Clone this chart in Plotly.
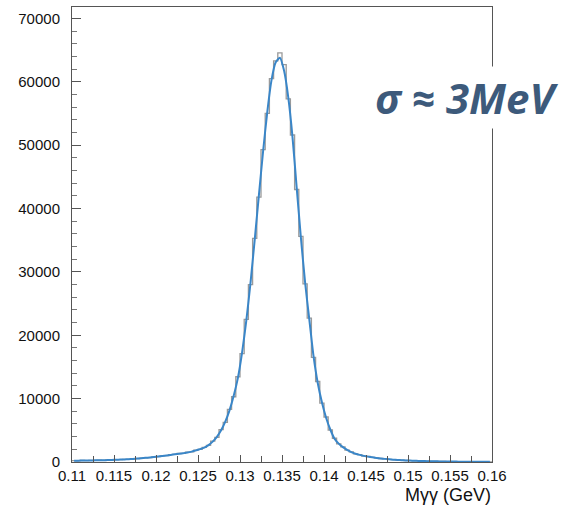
import plotly.graph_objects as go

# Binning of the diphoton invariant mass histogram (GeV)
mass_lo = 0.11
bin_width = 0.0005
n_bins = 100

# Entries per bin
counts = [
    230, 190, 240, 220, 260, 245, 290, 270, 320, 310,
    370, 360, 430, 420, 510, 520, 610, 640, 700, 810,
    860, 980, 1010, 1150, 1190, 1340, 1370, 1540, 1610, 1880,
    1990, 2310, 2620, 3300, 3900, 5120, 6250, 8290, 10300, 13450,
    17100, 22500, 28000, 35300, 41800, 49300, 55000, 60500, 63300, 64550,
    62700, 57300, 51600, 43000, 35600, 28100, 22700, 16500, 12700, 9300,
    7100, 5050, 3750, 2850, 2400, 1870, 1590, 1280, 1150, 940,
    870, 720, 660, 550, 505, 415, 385, 315, 295, 240,
    230, 185, 180, 145, 140, 112, 112, 92, 90, 70,
    72, 58, 60, 48, 48, 38, 40, 31, 32, 24,
]

# Fitted line shape evaluated at the bin centres
fit_values = [
    204, 213, 223, 233, 246, 259, 272, 286, 305, 326,
    351, 378, 410, 445, 490, 537, 595, 654, 726, 797,
    874, 953, 1036, 1120, 1210, 1300, 1390, 1490, 1641, 1833,
    2026, 2256, 2667, 3218, 3974, 5000, 6359, 8141, 10448, 13269,
    17307, 22307, 28268, 35063, 42114, 49037, 55254, 60254, 63074, 63780,
    61728, 57498, 51280, 43268, 35383, 28332, 22499, 16730, 12500, 9423,
    6987, 5128, 3679, 2897, 2346, 1910, 1551, 1308, 1122, 968,
    846, 737, 647, 563, 492, 426, 374, 326, 287, 251,
    222, 194, 172, 151, 135, 120, 108, 97, 86, 76,
    69, 63, 56, 51, 46, 42, 38, 33, 29, 26,
]

x_tick_vals = [0.11, 0.115, 0.12, 0.125, 0.13, 0.135, 0.14, 0.145, 0.15, 0.155, 0.16]
x_tick_text = ["0.11", "0.115", "0.12", "0.125", "0.13", "0.135", "0.14", "0.145", "0.15", "0.155", "0.16"]
y_tick_vals = [0, 10000, 20000, 30000, 40000, 50000, 60000, 70000]
y_tick_text = ["0", "10000", "20000", "30000", "40000", "50000", "60000", "70000"]

edges = [mass_lo + i * bin_width for i in range(n_bins + 1)]
centers = [mass_lo + (i + 0.5) * bin_width for i in range(n_bins)]

fig = go.Figure()

# Histogram drawn as an outline (step) line
fig.add_trace(go.Scatter(
    x=edges,
    y=counts + [counts[-1]],
    mode="lines",
    line=dict(shape="hv", color="#9a9a9a", width=1.3),
    hoverinfo="skip",
    showlegend=False,
))

# Fit curve
fig.add_trace(go.Scatter(
    x=centers,
    y=fit_values,
    mode="lines",
    line=dict(shape="spline", smoothing=0.6, color="#3a86c8", width=2),
    showlegend=False,
))

axis_font = dict(family="Liberation Sans, Arial, sans-serif", size=15, color="#111111")

fig.update_xaxes(
    range=[0.11, 0.16],
    tickvals=x_tick_vals,
    ticktext=x_tick_text,
    ticks="inside",
    ticklen=7,
    tickcolor="#555555",
    tickwidth=1,
    minor=dict(dtick=0.0025, tick0=0.11, ticks="inside", ticklen=6, tickcolor="#555555"),
    showline=True,
    linecolor="#555555",
    linewidth=1,
    mirror=True,
    showgrid=False,
    zeroline=False,
    tickfont=axis_font,
    ticklabelstandoff=0,
)

fig.update_yaxes(
    range=[0, 71800],
    tickvals=y_tick_vals,
    ticktext=y_tick_text,
    ticks="inside",
    ticklen=9,
    tickcolor="#555555",
    tickwidth=1,
    minor=dict(dtick=2000, tick0=0, ticks="inside", ticklen=5, tickcolor="#777777"),
    showline=True,
    linecolor="#555555",
    linewidth=1,
    mirror=True,
    showgrid=False,
    zeroline=False,
    tickfont=axis_font,
    ticklabelstandoff=8,
)

fig.add_annotation(
    text="Mγγ (GeV)",
    xref="paper", yref="paper",
    x=1.0, y=0.0, xanchor="right", yanchor="top",
    yshift=-22,
    showarrow=False,
    borderpad=0,
    font=dict(family="Liberation Sans, Arial, sans-serif", size=18, color="#111111"),
)

fig.add_annotation(
    text="<b><i>σ ≈ 3MeV</i></b>",
    xref="paper", yref="paper",
    x=0.94, y=0.80, xanchor="center", yanchor="middle",
    showarrow=False,
    bgcolor="white",
    borderpad=2,
    font=dict(family="Open Sans, sans-serif", size=42, color="#3d5a7b"),
)

fig.update_layout(
    width=566,
    height=506,
    margin=dict(l=72, r=74, t=7, b=44),
    paper_bgcolor="white",
    plot_bgcolor="white",
)

fig.write_html("out.html")
